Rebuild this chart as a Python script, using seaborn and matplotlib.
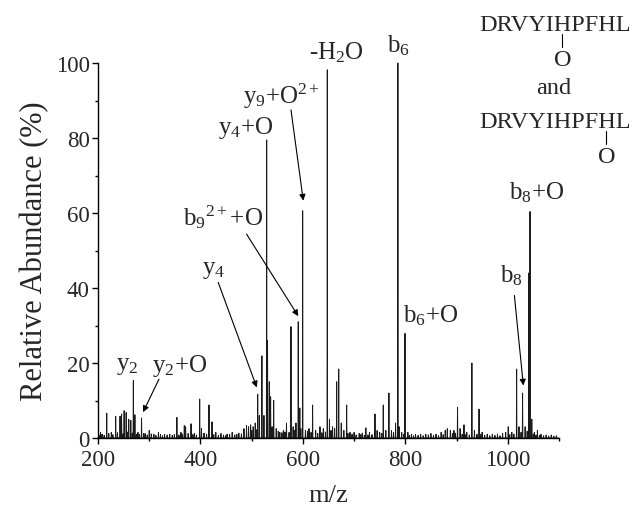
import matplotlib
matplotlib.use('Agg')
import matplotlib.pyplot as plt
import seaborn as sns
import pandas as pd

# picos principais (m/z, abundância relativa %)
pico_mz = [205, 217, 226, 234.5, 243, 246, 251, 255, 260, 264, 269, 272, 278, 285, 292,
           300, 309, 318, 330, 340, 354, 362, 368.5, 371, 381.6, 388, 398.5, 402, 416.7,
           422.6, 430, 440, 452, 462, 475, 485, 490, 494, 498, 503, 507, 511.8, 515, 520,
           524, 529.3, 531, 534.5, 537, 543, 548, 555, 562, 568, 576.8, 581, 586.5, 591,
           594, 599.6, 605, 612, 619, 625, 633.4, 640, 647.7, 652, 658, 662, 666, 670,
           675, 680, 685.5, 692, 700, 710, 716, 723, 730, 740.8, 745, 750, 757, 762, 768,
           773, 781, 785.5, 788, 793, 799.4, 805, 812, 820, 830, 840, 850, 860, 870, 878,
           882, 888, 895, 902, 907, 914.6, 920, 930, 935, 944, 950, 960, 970, 980, 990,
           996, 1001, 1008, 1017.4, 1022, 1029, 1034, 1041, 1043.5, 1047, 1052, 1058,
           1065, 1075, 1085, 1095]
pico_ab = [1.5, 6.6, 1.5, 5.8, 5.8, 6.4, 7.3, 6.8, 5.0, 4.7, 15.3, 6.2, 1.5, 5.3, 1.2,
           2.0, 1.0, 1.5, 1.0, 1.0, 5.5, 1.5, 3.3, 3.0, 3.8, 1.2, 10.4, 2.6, 8.8,
           4.3, 1.5, 1.2, 1.0, 1.5, 1.3, 2.5, 3.3, 3.0, 3.5, 3.0, 4.0, 11.7, 6.0, 21.9,
           6.0, 79.5, 26.0, 15.0, 11.0, 10.0, 2.5, 1.5, 2.0, 4.0, 29.7, 3.0, 4.0, 31.0,
           8.0, 60.6, 2.0, 2.5, 8.8, 2.0, 3.0, 2.5, 98.2, 5.0, 3.0, 2.5, 15.0, 18.4,
           4.0, 2.0, 8.8, 1.5, 1.5, 1.2, 1.3, 2.7, 1.5, 6.4, 2.0, 1.5, 8.8, 2.0, 12.0,
           2.0, 4.0, 100.0, 3.0, 1.5, 27.9, 1.5, 1.0, 1.0, 1.0, 1.0, 1.2, 1.0, 1.5, 2.0,
           2.5, 2.0, 2.0, 8.2, 2.5, 3.5, 1.5, 20.0, 2.0, 7.7, 1.5, 1.0, 1.0, 1.0, 1.2,
           1.5, 3.0, 1.5, 18.4, 3.0, 12.0, 3.0, 44.0, 60.4, 5.0, 1.5, 2.0,
           1.0, 0.8, 0.8, 0.6]

# ruído da linha de base
ruido_mz = [202, 208, 212, 221, 229, 238, 249, 257, 267, 275, 281, 289, 296, 304, 313,
            322, 326, 335, 345, 349, 358, 365, 376, 385, 392, 407, 412, 426, 435, 445,
            449, 457, 467, 471, 480, 500, 509, 540, 552, 559, 565, 573, 584, 596, 609,
            616, 629, 637, 644, 655, 688, 696, 704, 713, 720, 727, 735, 754, 777, 797,
            808, 816, 825, 835, 845, 855, 865, 874, 892, 898, 911, 917, 925, 940, 947,
            955, 965, 975, 985, 1004, 1012, 1026, 1038, 1050, 1055, 1062, 1070, 1080, 1090]
ruido_ab = [0.8, 1.0, 0.7, 1.2, 0.9, 1.4, 1.1, 1.6, 1.3, 1.0, 0.9, 1.2, 0.8, 1.1, 0.7,
            0.9, 0.6, 0.8, 0.7, 0.9, 0.8, 1.0, 1.2, 0.9, 0.8, 1.3, 1.0, 0.9, 0.7, 0.8,
            0.6, 0.9, 0.8, 1.0, 1.1, 2.0, 2.2, 3.0, 1.8, 1.4, 1.6, 1.5, 2.0, 2.5, 1.8,
            1.5, 1.2, 1.4, 1.6, 2.0, 1.2, 1.0, 0.8, 0.9, 0.7, 0.8, 0.9, 1.2, 1.5, 1.0,
            0.7, 0.6, 0.7, 0.6, 0.8, 0.7, 0.6, 0.9, 1.2, 1.3, 1.0, 0.9, 0.8, 1.0, 0.9,
            0.7, 0.6, 0.7, 0.6, 0.9, 1.0, 1.5, 1.8, 1.0, 0.8, 0.7, 0.6, 0.5, 0.5]

# rótulos: (texto, m/z, abundância)
rotulos = [('y$_2$', 258, 19.5), ('y$_2$+O', 360, 19.5), ('y$_4$', 426, 45),
           (r'b$_9$$^{2+}$+O', 444, 59.2), ('y$_4$+O', 489, 83),
           ('y$_9$+O$^{2+}$', 559, 91.5), ('-H$_2$O', 666, 103), ('b$_6$', 786, 105),
           ('b$_6$+O', 850, 32.8), ('b$_8$+O', 1057, 65.6), ('b$_8$', 1008, 43.5)]
# setas: (início m/z, início ab, ponta m/z, ponta ab)
setas = [(319, 15.7, 288, 6.9), (434.7, 41.5, 510, 13.5), (490, 54.4, 591, 32.5),
         (576.8, 87.5, 600.8, 63.3), (1013, 38, 1030.5, 14)]

sns.set_style('ticks')
plt.rcParams['font.family'] = ['Liberation Serif', 'DejaVu Serif']
plt.rcParams['mathtext.fontset'] = 'custom'
plt.rcParams['mathtext.rm'] = 'Liberation Serif'
plt.rcParams['mathtext.it'] = 'Liberation Serif'

# perfil do espectro (cada pico vira um triângulo estreito)
picos = sorted(zip(pico_mz + ruido_mz, pico_ab + ruido_ab))
xs, ys = [200], [0]
for m, a in picos:
    xs += [m - 0.5, m, m + 0.5]
    ys += [0, a, 0]
xs.append(1100)
ys.append(0)
df = pd.DataFrame({'mz': xs, 'ab': ys})

fig = plt.figure(figsize=(6.34, 5.06), dpi=100)
ax = fig.add_axes([0.1546, 0.1324, 0.727, 0.741])
sns.lineplot(data=df, x='mz', y='ab', sort=False, estimator=None, color='#1a1a1a',
             linewidth=0.7, ax=ax)
for l in ax.lines:
    l.set_clip_on(False)

ax.set_xlim(200, 1100)
ax.set_ylim(0, 100)
ax.set_xticks([200, 400, 600, 800, 1000])
ax.set_xticks([300, 500, 700, 900, 1100], minor=True)
ax.set_yticks([0, 20, 40, 60, 80, 100])
ax.set_yticks([10, 30, 50, 70, 90], minor=True)
ax.tick_params(which='major', length=4, width=1, labelsize=16.5, pad=2, color='black')
ax.tick_params(which='minor', length=2.5, width=1, color='black')
ax.tick_params(axis='x', which='major', pad=4)
for s in ['left', 'bottom']:
    ax.spines[s].set_linewidth(1)
    ax.spines[s].set_color('black')
sns.despine(ax=ax)
ax.set_xlabel('m/z', fontsize=19, labelpad=10)
ax.set_ylabel('Relative Abundance (%)', fontsize=22, labelpad=5)

for t, m, a in rotulos:
    ax.text(m, a, t, fontsize=18, ha='center', va='center', clip_on=False)
for m0, a0, m1, a1 in setas:
    ax.annotate('', xy=(m1, a1), xytext=(m0, a0), annotation_clip=False,
                arrowprops=dict(arrowstyle='-|>', color='black', lw=0.8,
                                mutation_scale=9, shrinkA=0, shrinkB=0))

# estrutura do peptídeo
ax.text(1092, 110.4, 'DRVYIHPFHL', fontsize=17.5, ha='center', va='center', clip_on=False)
ax.plot([1105.3, 1105.3], [107.7, 104.3], color='black', lw=0.8, clip_on=False)
ax.text(1107.8, 101, 'O', fontsize=17.5, ha='center', va='center', clip_on=False)
ax.text(1090, 93.6, 'and', fontsize=17.5, ha='center', va='center', clip_on=False)
ax.text(1092, 84.5, 'DRVYIHPFHL', fontsize=17.5, ha='center', va='center', clip_on=False)
ax.plot([1191.8, 1191.8], [81.9, 78.4], color='black', lw=0.8, clip_on=False)
ax.text(1193.7, 75.2, 'O', fontsize=17.5, ha='center', va='center', clip_on=False)

fig.savefig('out.png', dpi=100)
